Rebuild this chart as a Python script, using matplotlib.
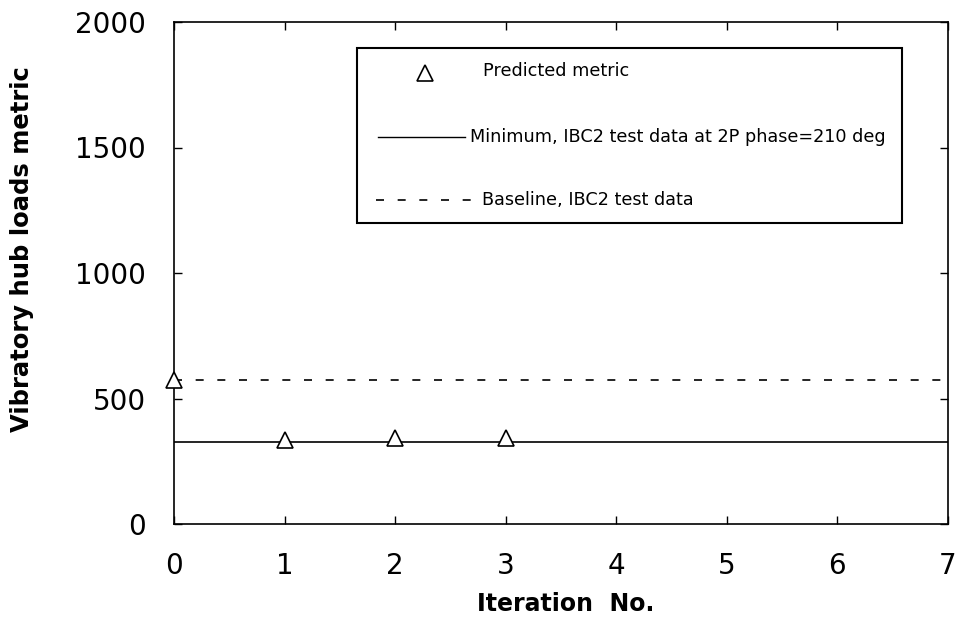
import matplotlib
matplotlib.use("Agg")
import matplotlib.pyplot as plt
from matplotlib.lines import Line2D
from matplotlib.patches import Rectangle

plt.rcParams['font.family'] = ['DejaVu Sans']

# Data
iterations = [0, 1, 2, 3]
predicted_metric = [572, 336, 342, 342]
minimum_ibc2 = 325
baseline_ibc2 = 575
x_ticks = [0, 1, 2, 3, 4, 5, 6, 7]
y_ticks = [0, 500, 1000, 1500, 2000]
legend_labels = ["Predicted metric",
                 "Minimum, IBC2 test data at 2P phase=210 deg",
                 "Baseline, IBC2 test data"]

W, H = 963, 623
fig = plt.figure(figsize=(W / 100, H / 100), dpi=100)
ax = fig.add_axes([174 / W, 1 - 524 / H, (948 - 174) / W, (524 - 22) / H])

dash_style = (0, (4.8, 8.2))
ax.axhline(minimum_ibc2, color='black', lw=1.2, zorder=2)
ax.axhline(baseline_ibc2, color='black', lw=1.2, linestyle=dash_style, zorder=2)
ax.plot(iterations, predicted_metric, linestyle='none', marker='^', ms=12,
        mfc='white', mec='black', mew=1.2, zorder=3, clip_on=False)

ax.set_xlim(0, 7)
ax.set_ylim(0, 2000)
ax.set_xticks(x_ticks)
ax.set_yticks(y_ticks)
ax.tick_params(direction='in', top=True, right=True, length=6, width=1,
               labelsize=20)
ax.tick_params(axis='x', pad=20)
ax.tick_params(axis='y', pad=20)
for s in ax.spines.values():
    s.set_linewidth(1.2)

ax.set_xlabel("Iteration  No.", fontsize=17, fontweight='bold')
ax.xaxis.set_label_coords((566 - 174) / 774, -(592 - 524) / 502)
ax.set_ylabel("Vibratory hub loads metric", fontsize=17.5, fontweight='bold')
ax.yaxis.set_label_coords((34 - 174) / 774, (524 - 249) / 502)

# Manual legend (pixel positions converted to figure fraction)
def fx(px):
    return px / W

def fy(py):
    return 1 - py / H

fig.patches.append(Rectangle((fx(357), fy(223)), fx(902) - fx(357), fy(48) - fy(223),
                             transform=fig.transFigure, fill=True, facecolor='white',
                             edgecolor='black', lw=1.5, zorder=5))
fig.lines.append(Line2D([fx(425)], [fy(73)], transform=fig.transFigure, marker='^',
                        ms=12, mfc='white', mec='black', mew=1.2, linestyle='none', zorder=6))
fig.lines.append(Line2D([fx(378), fx(465)], [fy(137), fy(137)], transform=fig.transFigure,
                        color='black', lw=1.0, zorder=6))
fig.lines.append(Line2D([fx(376), fx(474)], [fy(200), fy(200)], transform=fig.transFigure,
                        color='black', lw=1.2, linestyle=dash_style, zorder=6))
fig.text(fx(483), fy(71), legend_labels[0], fontsize=12.7, va='center', ha='left', zorder=7)
fig.text(fx(470), fy(137), legend_labels[1], fontsize=12.7, va='center', ha='left', zorder=7)
fig.text(fx(482), fy(200), legend_labels[2], fontsize=12.7, va='center', ha='left', zorder=7)

fig.savefig("out.png", dpi=100)
